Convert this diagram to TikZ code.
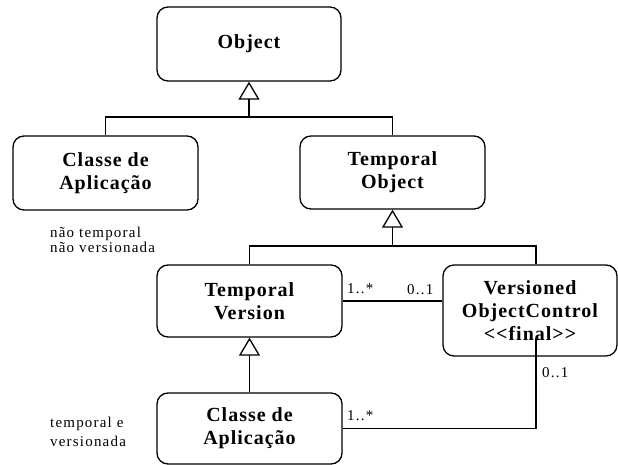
\documentclass[tikz,border=0pt]{standalone}
\usepackage{fontspec}
\setmainfont{Liberation Serif}
\newfontfamily\boxfont{Liberation Serif}[LetterSpace=5]
\newfontfamily\notefont{Liberation Serif}[LetterSpace=8]
\usetikzlibrary{arrows.meta}
\begin{document}
\begin{tikzpicture}[x=1pt,y=-1pt,
  cls/.style={draw, line width=1.3pt, rounded corners=11pt, align=center, inner sep=0pt,
    font=\boxfont\bfseries\fontsize{20}{23}\selectfont},
  link/.style={line width=1.3pt},
  gen/.style={line width=1.3pt, -{Triangle[open, length=18pt, width=21pt]}},
  note/.style={inner sep=0pt, align=left, font=\notefont\fontsize{15}{15}\selectfont},
  mult/.style={inner sep=0pt, anchor=base west, font=\notefont\fontsize{15}{15}\selectfont}]
\useasboundingbox (0,0) rectangle (618,465);
\node[cls, minimum width=184pt, minimum height=74pt] (obj) at (249,44) {Object};
\node[cls, minimum width=185pt, minimum height=74pt] (ca1) at (105.5,173) {Classe de\\Aplicação};
\node[cls, minimum width=185pt, minimum height=73pt] (to) at (392.5,172.5) {Temporal\\Object};
\node[cls, minimum width=185pt, minimum height=72pt] (tv) at (249.5,301) {Temporal\\Version};
\node[cls, minimum width=174pt, minimum height=91pt] (voc) at (530,310.5) {Versioned\\ObjectControl\\<<final>>};
\node[cls, minimum width=185pt, minimum height=71pt] (ca2) at (249.5,428.5) {Classe de\\Aplicação};
% notes
\node[note, anchor=west] (n1) at (50,240) {não temporal\\não versionada};
\node[note, anchor=west, font=\notefont\fontsize{15}{19}\selectfont] (n2) at (50,432) {temporal e\\versionada};
% generalization 1
\coordinate (j1) at (249,117);
\draw[link] (ca1.north) |- (j1) -| (to.north);
\draw[gen] (j1) -- (obj.south);
% generalization 2
\coordinate (j2) at (392.5,246);
\draw[link] (tv.north) |- (j2) -| ([xshift=6pt]voc.north);
\draw[gen] (j2) -- (to.south);
% generalization 3
\draw[gen] (ca2.north) -- (tv.south);
% associations
\draw[link] (tv.east) -- (tv.east -| voc.west);
\coordinate (c1) at ([xshift=6pt,yshift=19pt]voc.south);
\draw[link] (ca2.east) -| (c1);
% multiplicities
\node[mult] (m1) at (347,293) {1..*};
\node[mult] (m2) at (407,294) {0..1};
\node[mult] (m3) at (347,420) {1..*};
\node[mult] (m4) at (542,377) {0..1};
\end{tikzpicture}
\end{document}
